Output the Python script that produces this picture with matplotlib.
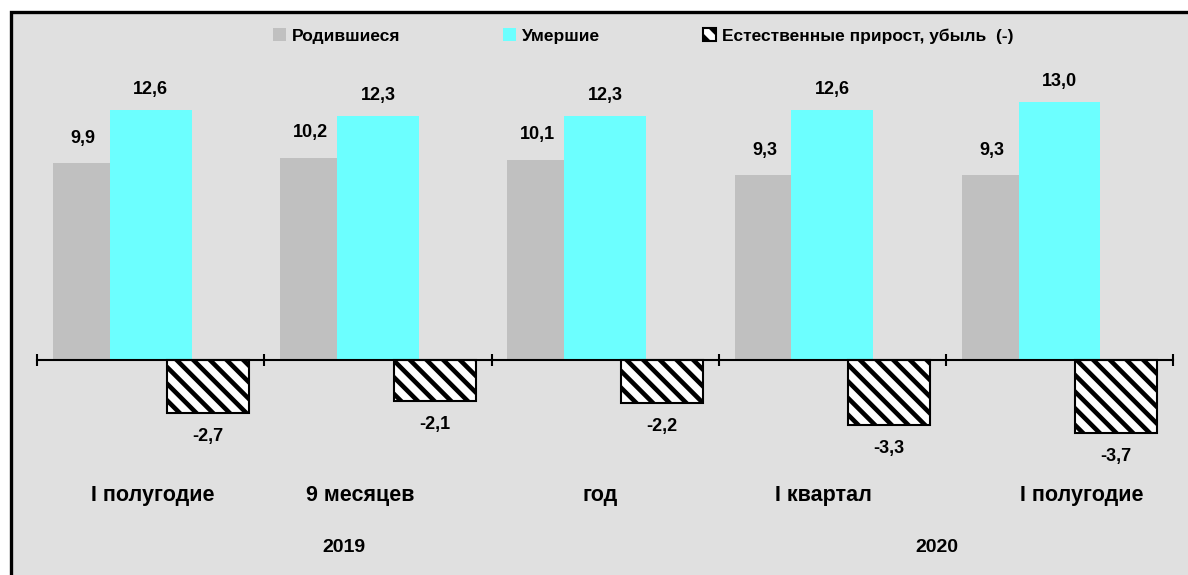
#!/usr/bin/env python3

import numpy as np
import matplotlib
matplotlib.use("Agg")
import matplotlib.pyplot as plt
from matplotlib.patches import Rectangle
from matplotlib.transforms import blended_transform_factory

periods = ["I полугодие", "9 месяцев", "год", "I квартал", "I полугодие"]
years = ["2019", "2020"]
births = [9.9, 10.2, 10.1, 9.3, 9.3]
deaths = [12.6, 12.3, 12.3, 12.6, 13.0]
natural = [-2.7, -2.1, -2.2, -3.3, -3.7]
series_names = ["Родившиеся", "Умершие", "Естественные прирост, убыль  (-)"]

plt.rcParams["font.family"] = ["Liberation Sans", "DejaVu Sans"]
plt.rcParams["font.weight"] = "bold"
plt.rcParams["hatch.linewidth"] = 3.3

fig = plt.figure(figsize=(11.88, 5.75), dpi=100)
fig.patch.set_facecolor("white")

# grey chart area with the black frame (only left/top edges visible)
frame = Rectangle(
    (10.5 / 1188, -0.1), 1.2, 1 - 12 / 575 + 0.1,
    transform=fig.transFigure, facecolor="#e0e0e0",
    edgecolor="black", linewidth=2.4, zorder=-10
)
fig.add_artist(frame)

ax = fig.add_axes([37.3 / 1188, 95 / 575, 1135.7 / 1188, 420 / 575])
ax.set_facecolor("none")
ax.set_zorder(1)

x = np.arange(len(periods))
w = 0.36
step = 0.25

b1 = ax.bar(x - step, births, w, color="#c0c0c0", zorder=2, label=series_names[0])
b2 = ax.bar(x, deaths, w, color="#6cffff", zorder=3, label=series_names[1])
b3 = ax.bar(x + step, natural, w, facecolor="white", edgecolor="black",
            hatch="\\\\", linewidth=1.5, zorder=3, label=series_names[2])

fmt = lambda v: f"{v:.1f}".replace(".", ",")
for xi, v in zip(x, births):
    ax.annotate(fmt(v), (xi - step, v), xytext=(-8, 18), textcoords="offset points",
                ha="center", va="center", fontsize=13, fontweight="bold")
for xi, v in zip(x, deaths):
    ax.annotate(fmt(v), (xi, v), xytext=(0, 15), textcoords="offset points",
                ha="center", va="center", fontsize=13, fontweight="bold")
for xi, v in zip(x, natural):
    ax.annotate(fmt(v), (xi + step, v), xytext=(0, -17), textcoords="offset points",
                ha="center", va="center", fontsize=13, fontweight="bold")

px_per_unit = 19.8
ax.set_xlim(-0.5, len(periods) - 0.5)
ax.set_ylim(-(480 - 359.5) / px_per_unit, (359.5 - 60) / px_per_unit)

for s in ["top", "right", "left"]:
    ax.spines[s].set_visible(False)
ax.spines["bottom"].set_position(("data", 0))
ax.spines["bottom"].set_linewidth(1.5)
ax.spines["bottom"].set_zorder(4)
ax.set_yticks([])
ax.set_xticks(np.arange(len(periods) + 1) - 0.5)
ax.set_xticklabels([])
ax.tick_params(axis="x", direction="inout", length=8, width=1.5)

# category and year labels under the plot
trans = blended_transform_factory(ax.transData, fig.transFigure)
label_x = [0.01, 0.92, 1.98, 2.96, 4.1]
for lx, name in zip(label_x, periods):
    ax.text(lx, 1 - 495 / 575, name, transform=trans, ha="center", va="center",
            fontsize=15.5, fontweight="bold")
for lx, yr in zip([0.85, 3.46], years):
    ax.text(lx, 1 - 547 / 575, yr, transform=trans, ha="center", va="center",
            fontsize=14, fontweight="bold")

fig.legend(handles=[b1, b2, b3], loc="center left",
           bbox_to_anchor=(273 / 1188, 1 - 36 / 575), ncol=3, frameon=False,
           handlelength=0.75, handleheight=0.75,
           handletextpad=0.35, columnspacing=5.9, borderpad=0, borderaxespad=0,
           prop={"weight": "bold", "size": 12.5})

fig.savefig("out.png", dpi=100)
